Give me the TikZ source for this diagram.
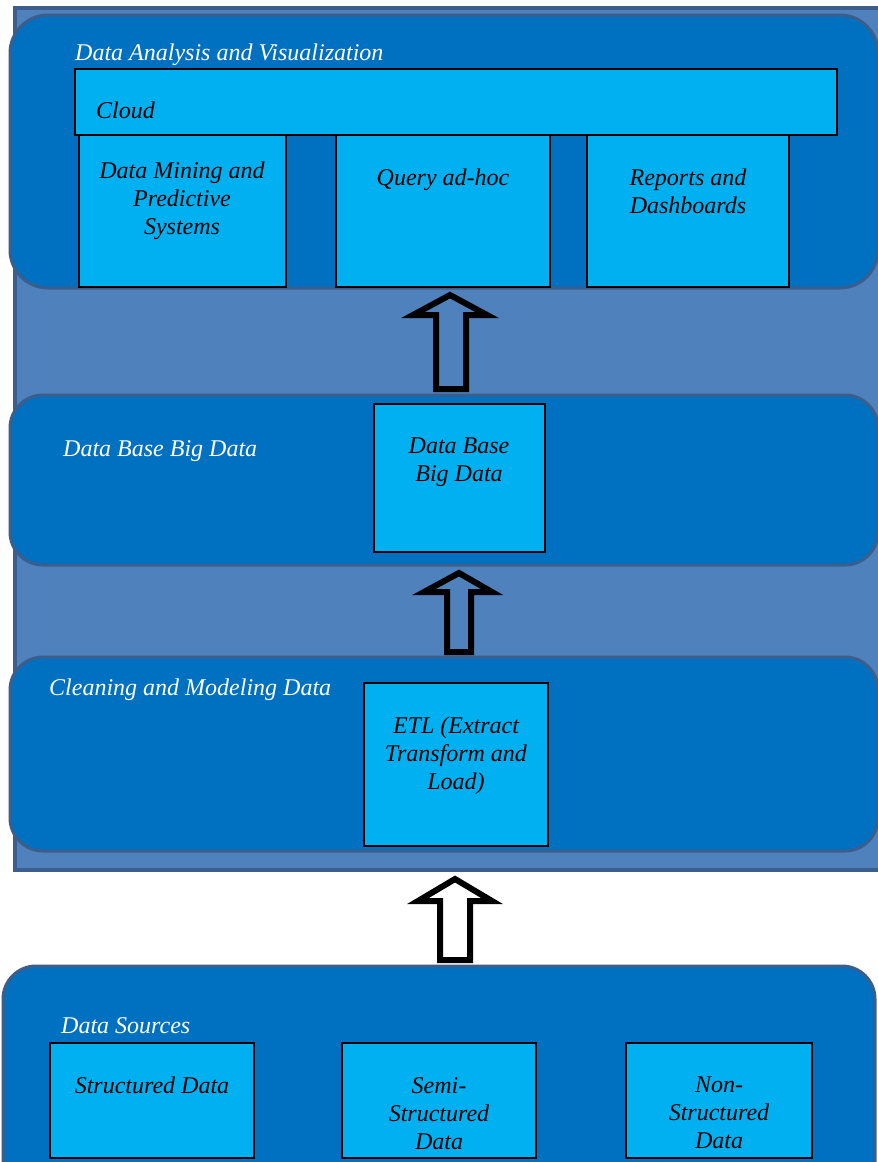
\documentclass[tikz,border=0pt]{standalone}
\usepackage{fontspec}
\setmainfont{Liberation Serif}
\definecolor{panelblue}{HTML}{0070C0}
\definecolor{boxblue}{HTML}{00B0F0}
\definecolor{bgblue}{HTML}{4F81BD}
\definecolor{edgeblue}{HTML}{3B5E8C}
\begin{document}
\begin{tikzpicture}[x=1pt,y=-1pt,
  panel/.style={draw=edgeblue,fill=panelblue,line width=3pt,rounded corners=33pt},
  inbox/.style={draw=black,fill=boxblue,line width=1.6pt},
  ptext/.style={text=white,font=\fontsize{24}{28}\selectfont\itshape,anchor=west,inner sep=0pt},
  btext/.style={text=black,font=\fontsize{24}{28}\selectfont\itshape,align=center,anchor=north,inner sep=0pt},
  blockarrow/.style={draw=black,line width=6pt,miter limit=10}]
\clip (0,0) rectangle (878,1162);
\fill[white] (0,0) rectangle (878,1162);
% outer background
\draw[draw=edgeblue,fill=bgblue,line width=3.5pt] (15,8) rectangle (900,870);
% panels
\draw[panel,rounded corners=38pt] (10,15) rectangle (878,288);
\draw[panel] (10,395) rectangle (878,565);
\draw[panel] (10,657) rectangle (878,851);
\draw[panel] (3,966) rectangle (875,1200);
% panel labels
\node[ptext] (lva) at (75,55) {Data Analysis and Visualization};
\node[ptext] (ldb) at (63,451) {Data Base Big Data};
\node[ptext] (lcm) at (49,690) {Cleaning and Modeling Data};
\node[ptext] (lds) at (61,1026) {Data Sources};
% top panel boxes
\draw[inbox] (79,135) rectangle (286,287);
\draw[inbox] (336,135) rectangle (550,287);
\draw[inbox] (587,135) rectangle (789,287);
\draw[inbox] (75,69) rectangle (837,135);
\node[ptext,text=black] (tcloud) at (96,110) {Cloud};
\node[btext] (tdm) at (182,162) {Data Mining and\\Predictive\\Systems};
\node[btext] (tq) at (443,169) {Query ad-hoc};
\node[btext] (tr) at (688,169) {Reports and\\Dashboards};
% middle
\draw[inbox] (374,404) rectangle (545,552);
\node[btext] (tdb) at (459,438) {Data Base\\Big Data};
% third
\draw[inbox] (364,683) rectangle (548,846);
\node[btext] (tetl) at (456,717) {ETL (Extract\\Transform and\\Load)};
% bottom
\draw[inbox] (50,1043) rectangle (254,1158);
\draw[inbox] (342,1043) rectangle (536,1158);
\draw[inbox] (626,1043) rectangle (812,1158);
\node[btext] (tsd) at (152,1077) {Structured Data};
\node[btext] (tss) at (439,1077) {Semi-\\Structured\\Data};
\node[btext] (tns) at (719,1077) {Non-\\Structured\\Data};
% block arrows
\draw[blockarrow] (450,295) -- (487,315) -- (466,315) -- (466,389) -- (436,389) -- (436,315) -- (413,315) -- cycle;
\draw[blockarrow] (459,573) -- (492,592) -- (471,592) -- (471,652) -- (447,652) -- (447,592) -- (424,592) -- cycle;
\draw[blockarrow] (455,879) -- (492,901) -- (470,901) -- (470,960) -- (440,960) -- (440,901) -- (418,901) -- cycle;
\end{tikzpicture}
\end{document}
